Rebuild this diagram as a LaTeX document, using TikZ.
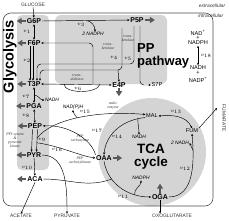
\documentclass[tikz,border=0pt]{standalone}
\usepackage{fontspec}
\setmainfont{Liberation Sans}
\newfontfamily\serifit{Liberation Serif}
\usetikzlibrary{arrows.meta}
\begin{document}
\begin{tikzpicture}[x=1pt,y=-1pt,
  met/.style={font=\fontsize{7}{7}\selectfont\bfseries, inner sep=0.6pt},
  metl/.style={font=\fontsize{5.6}{6}\selectfont, inner sep=0.6pt},
  ext/.style={font=\fontsize{4.9}{5}\selectfont, text=black!80, inner sep=0.5pt},
  exti/.style={font=\itshape\fontsize{4.9}{5}\selectfont, text=black!80, inner sep=0.5pt},
  vl/.style={font=\fontsize{5.5}{6}\selectfont, inner sep=0},
  note/.style={font=\serifit\itshape\fontsize{3.8}{3.9}\selectfont, align=center, inner sep=0, text=black!80},
  cof/.style={font=\itshape\fontsize{4.9}{5}\selectfont, inner sep=0.5pt},
  rx/.style={-{Stealth[length=2.4pt,width=2.2pt]}, line width=0.45pt},
  rrx/.style={{Stealth[length=2.4pt,width=2.2pt]}-{Stealth[length=2.4pt,width=2.2pt]}, line width=0.45pt},
  ln/.style={line width=0.45pt},
  drain/.style={-{Triangle[length=5pt,width=6pt]}, line width=2.6pt, draw=black!65},
  big/.style={font=\fontsize{13}{13}\selectfont\bfseries, inner sep=0},
]
\useasboundingbox (0,0) rectangle (229,220);
% backgrounds
\fill[black!17, rounded corners=5pt] (17,15) rectangle (49,170);
\fill[black!17, rounded corners=6pt] (55,15) rectangle (167,84);
\fill[black!17] (152,152) circle (54);
\draw[black!70, line width=0.6pt, rounded corners=8pt] (3,13) rectangle (213,206);

% titles
\node[big, font=\fontsize{14.5}{14.5}\selectfont\bfseries, rotate=90] (glyc) at (10,57) {Glycolysis};
\node[big, anchor=base west] (ppa) at (137,52) {PP};
\node[big, anchor=base west] (ppb) at (137,65) {pathway};
\node[big, font=\fontsize{13.5}{13.5}\selectfont\bfseries, anchor=base] (tcaa) at (151,153) {TCA};
\node[big, font=\fontsize{13.5}{13.5}\selectfont\bfseries, anchor=base] (tcab) at (151,166) {cycle};

% external texts
\node[ext] (glc) at (33,5) {GLUCOSE};
\node[ext] (acet) at (21,216) {ACETATE};
\node[ext] (pyrv) at (67,216) {PYRUVATE};
\node[ext] (oxo) at (172,216) {OXOGLUTARATE};
\node[ext, rotate=-90] (fumt) at (224,118) {FUMARATE};
\node[exti, anchor=east] (extra) at (226,6) {extracellular};
\node[exti, anchor=east] (intra) at (224,16) {intracellular};

% metabolites
\node[met] (g6p) at (34,21) {G6P};
\node[met] (f6p) at (34,43) {F6P};
\node[met] (t3p) at (34,84) {T3P};
\node[met] (pga) at (34,106) {PGA};
\node[met] (pep) at (35,126) {PEP};
\node[met] (pyr) at (34,155) {PYR};
\node[met] (aca) at (35,179) {ACA};
\node[met] (p5p) at (137,20) {P5P};
\node[met] (e4p) at (119,85) {E4P};
\node[metl] (s7p) at (157,85) {S7P};
\node[met] (oaa) at (104,158) {OAA};
\node[metl] (mal) at (152,116) {MAL};
\node[metl] (fum) at (192,131) {FUM};
\node[met] (oga) at (160,197) {OGA};

% cofactors
\node[cof] (nadph2) at (93,34) {2 NADPH};
\node[cof] (nadh7) at (52,100) {NADH};
\node[cof] (nadph15) at (73,107) {NAD(P)H};
\node[cof] (nadh14) at (139,137) {NADH};
\node[cof] (nadh12) at (180,143) {2 NADH};
\node[cof] (nadph11) at (141,178) {NADPH};

% transhydrogenase column
\node[metl] (r1) at (198,33) {NAD\textsuperscript{+}};
\node[metl] (r2) at (198,38) {+};
\node[metl] (r3) at (198,43) {NADPH};
\node[metl] (r4) at (198,68) {NADH};
\node[metl] (r5) at (198,73) {+};
\node[metl] (r6) at (198,80) {NADP\textsuperscript{+}};
\draw[rrx] (r3) -- (r4);
\node[vl] (v18) at (206,56) {$v_{18}$};

% notes
\node[note] (tk1) at (108,46) {trans-\\ketolase};
\node[note] (tk2) at (128,38) {trans-\\ketolase};
\node[note] (ta) at (77,77) {trans-\\aldolase};
\node[note] (me) at (113,106) {malic\\enzyme};
\node[note] (pts) at (15,140) {PTS system\\\&\\pyruvate\\kinase};
\node[note] (pc) at (80,139) {PEP\\carboxylase};
\node[note] (pck) at (80,161) {PEP\\carboxykinase};

% reaction labels
\node[vl] at (27,32) {$v_{1}$};
\node[vl] at (27,61) {$v_{2}$};
\node[vl] at (81,25) {$v_{3}$};
\node[vl] at (114,58) {$v_{4}$};
\node[vl] at (128,59) {$v_{5}$};
\node[vl] at (78,89) {$v_{6}$};
\node[vl] at (26,97) {$v_{7}$};
\node[vl] at (26,116) {$v_{8}$};
\node[vl] at (42,140) {$v_{9}$};
\node[vl] at (27,168) {$v_{10}$};
\node[vl] at (123,197) {$v_{11}$};
\node[vl] at (185,169) {$v_{12}$};
\node[vl] at (176,112) {$v_{13}$};
\node[vl] at (117,137) {$v_{14}$};
\node[vl] at (85,112) {$v_{15}$};
\node[vl] at (57,150) {$v_{16}$};
\node[vl] at (97,131) {$v_{17}$};

% glycolysis
\draw[rx] (glc) -- (g6p);
\draw[rrx] (g6p) -- (f6p);
\draw[rx] ([xshift=-4pt]f6p.south) -- ([xshift=-4pt]t3p.north);
\draw[rx] ([xshift=-1pt]f6p.south) -- ([xshift=-1pt]t3p.north);
\draw[rrx] (t3p) -- coordinate[pos=0.5] (m7) (pga);
\draw[rx] (m7) to[out=0,in=180] (nadh7.west);
\draw[rrx] (pga) -- (pep);
\draw[rx] ([xshift=-2.5pt]pep.south) -- ([xshift=-2.5pt]pyr.north);
\draw[rx] ([xshift=2.5pt]pep.south) -- coordinate[pos=0.4] (m9) coordinate[pos=0.6] (m9b) ([xshift=2.5pt]pyr.north);
\draw[rx] (pyr) -- (aca);
\draw[rx] (aca.south) -- (acet.north);
\draw[rx] (pyr.east) to[out=0,in=90] (pyrv.north);

% PP pathway
\draw[rx] (g6p.east) -- coordinate[pos=0.5] (m3) (p5p.west);
\draw[rx] (m3) to[out=0,in=90] ([xshift=2pt]nadph2.north);
\draw[rrx] (t3p.east) -- (e4p.west);
\draw[rx, rounded corners=4pt] (93,84) -- (93,43) -- (f6p.east);
\draw[rx, rounded corners=4pt] (134,26) -- (134,64) -- (37,64) -- ([xshift=3pt]t3p.north);
\draw[rx, rounded corners=4pt] (122,28) -- (122,70) -- (40,70) -- ([xshift=6pt]t3p.north);
\draw[rx] (118,70) -- (e4p.north);
\draw[rx, rounded corners=4pt] (140,26) -- (140,85) -- (s7p.west);
\draw[ln] (64,84) .. controls (64,94) and (98,94) .. (100,84);

% TCA cycle
\draw[rx] (oaa.south) to[out=-80,in=180] coordinate[pos=0.3] (j11) coordinate[pos=0.75] (k11) (oga.west);
\draw[rx] (k11) to[out=100,in=-90] (nadph11.south);
\draw[ln] (aca.east) to[out=0,in=200] (j11);
\draw[rx] (oga.east) to[out=0,in=-85] coordinate[pos=0.8] (m12) (fum.south);
\draw[rx] (m12) -- (nadh12.east);
\draw[rrx] (mal.east) to[out=5,in=115] (fum.north);
\draw[rx] ([yshift=-1.5pt]mal.west) to[out=185,in=85] coordinate[pos=0.12] (m14) (oaa.north);
\draw[rx] (m14) to[out=-90,in=90] (nadh14.north);
\draw[rx] (m9) .. controls (50,120) and (95,110) .. coordinate[pos=0.5] (m15) ([yshift=1.5pt]mal.west);
\draw[rx] (m15) to[out=120,in=-90] (nadph15.south);
\draw[rx] (oaa.north west) .. controls (92,140) and (68,124) .. (pep.east);
\draw[rx] (m9b) .. controls (60,146) and (80,156) .. (oaa.west);
\draw[rx] (fum.north east) -- (217,108);

% drains
\foreach \m in {g6p,f6p,t3p,pga,pep,pyr,aca} \draw[drain] ([xshift=-0.5pt]\m.west) -- ++(-9,0);
\draw[drain] ([xshift=0.5pt]p5p.east) -- ++(10,0);
\draw[drain] (e4p.south) -- ++(0,8);
\draw[drain] ([xshift=0.5pt]oaa.east) -- ++(9,0);
\draw[drain] (oga.north) -- ++(0,-10);
\draw[rx] (oga.south) -- (oga.south |- oxo.north);
\end{tikzpicture}
\end{document}
